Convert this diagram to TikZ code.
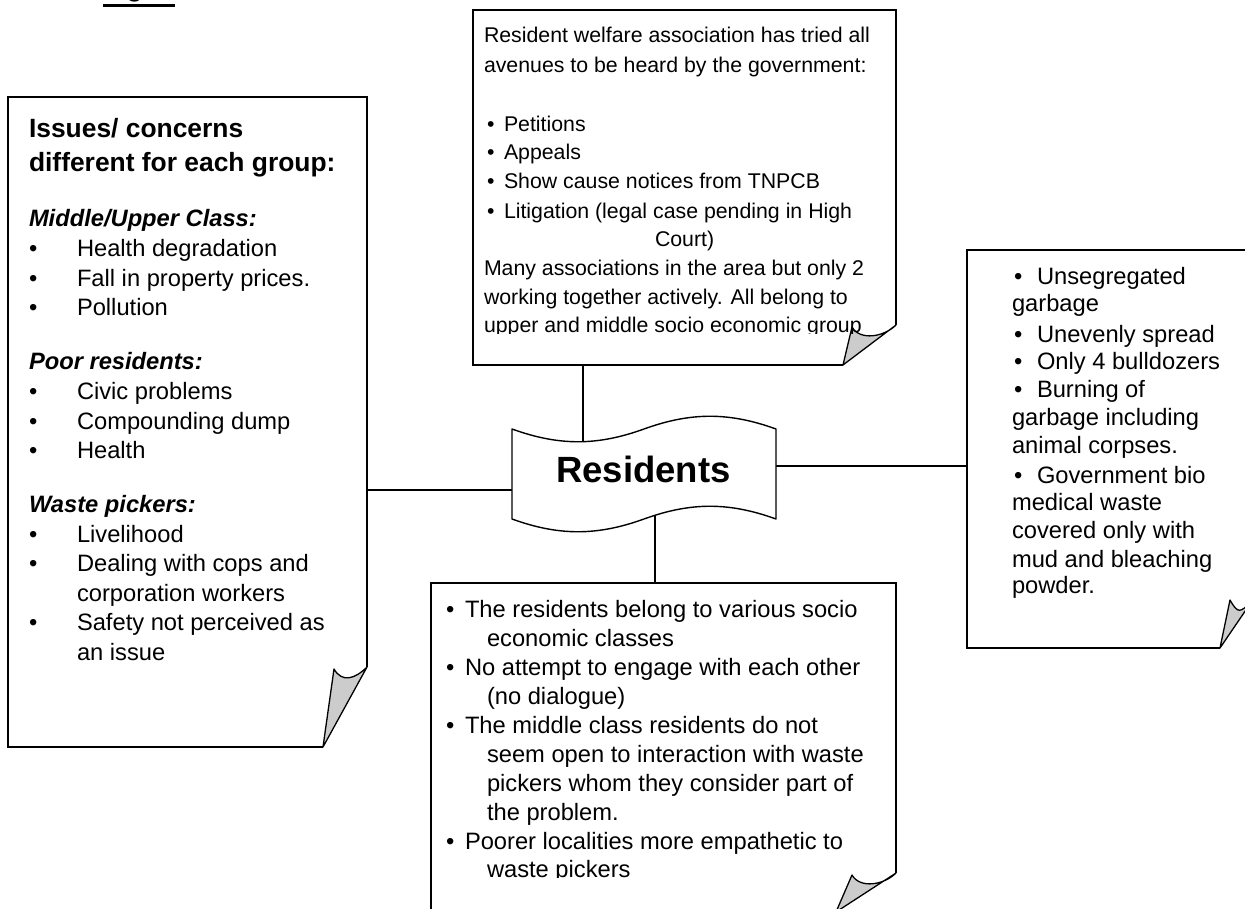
\documentclass[tikz,border=0pt]{standalone}
\usepackage{fontspec}
\setmainfont{Liberation Sans}
\newcounter{txc}
\tikzset{
  boxline/.style={draw=black, line width=1.3pt, line join=miter},
  foldfill/.style={fill=black!20, draw=black, line width=1.3pt, line join=round},
  link/.style={draw=black, line width=1.3pt},
  txt/.style={anchor=base west, inner sep=0pt, outer sep=0pt, font=\fontsize{23.7}{28}\selectfont},
  toptxt/.style={txt, font=\fontsize{21.3}{26}\selectfont},
  headtxt/.style={txt, font=\fontsize{26.4}{32}\selectfont\bfseries},
  subtxt/.style={txt, font=\fontsize{23.7}{28}\selectfont\bfseries\itshape},
  restxt/.style={anchor=base, inner sep=0pt, font=\fontsize{36.5}{40}\selectfont\bfseries}
}
% #1 style, #2 x, #3 y, #4 text
\newcommand\Tx[4]{\stepcounter{txc}\node[#1] (tx\arabic{txc}) at (#2,#3) {#4};}
% #1 style, #2 bullet x, #3 text x, #4 y, #5 text
\newcommand\Bu[5]{\Tx{#1}{#2}{#4}{\textbullet}\Tx{#1}{#3}{#4}{#5}}
% fold box: #1 L, #2 T, #3 R, #4 B, #5 corner y, #6 curl x, #7 curl y, #8 tip x
\newcommand\FoldBox[8]{%
  \draw[boxline] (#8,#4) -- (#1,#4) -- (#1,#2) -- (#3,#2) -- (#3,#5);
  \draw[foldfill] (#8,#4) -- (#3,#5) .. controls ({#3-12},{#5+12}) and ({#6+8},{#7+14}) .. (#6,#7) -- cycle;
}
\begin{document}
\begin{tikzpicture}[x=1pt,y=-1pt]
\useasboundingbox (0,0) rectangle (1245,909);
\clip (0,0) rectangle (1245,909);

% Fig label (cut at top, as in the reference)
\node[anchor=base west, inner sep=0pt, font=\fontsize{26.4}{32}\selectfont\bfseries] (figlabel) at (103,-3) {Fig 2.};
\fill (103,4) rectangle (175,7);

% anchor points
\coordinate (lb-e) at (367,490);
\coordinate (res-w) at (512,490);
\coordinate (tb-s) at (583,365);
\coordinate (res-n) at (583,442);
\coordinate (res-e) at (776,466);
\coordinate (rb-w) at (967,466);
\coordinate (res-s) at (655,513);
\coordinate (bb-n) at (655,583);

% connectors
\draw[link] (lb-e) -- (res-w);
\draw[link] (tb-s) -- (res-n);
\draw[link] (res-e) -- (rb-w);
\draw[link] (res-s) -- (bb-n);

% boxes
\FoldBox{8}{97}{367}{747}{667}{334}{669}{323}
\FoldBox{473}{10}{896}{365}{325}{852}{327}{843}
\FoldBox{431}{583}{896}{912}{873}{852}{875}{836}
\FoldBox{967}{250}{1252}{648}{601}{1230}{600}{1220}

% Residents tape shape
\draw[line width=1.4pt, fill=white, line join=round] (512,429)
  .. controls (559,446) and (597,446) .. (644,429)
  .. controls (691,412) and (729,412) .. (776,429)
  -- (776,519)
  .. controls (729,502) and (691,502) .. (644,519)
  .. controls (597,536) and (559,536) .. (512,519) -- cycle;
\node[restxt] (residents) at (643.5,482) {Residents};

% Left box text
\Tx{headtxt}{29}{138}{Issues/ concerns}
\Tx{headtxt}{29}{172}{different for each group:}
\Tx{subtxt}{29}{227}{Middle/Upper Class:}
\Bu{txt}{29}{77}{257}{Health degradation}
\Bu{txt}{29}{77}{287}{Fall in property prices.}
\Bu{txt}{29}{77}{316}{Pollution}
\Tx{subtxt}{29}{370}{Poor residents:}
\Bu{txt}{29}{77}{399.5}{Civic problems}
\Bu{txt}{29}{77}{429}{Compounding dump}
\Bu{txt}{29}{77}{458.5}{Health}
\Tx{subtxt}{29}{512.5}{Waste pickers:}
\Bu{txt}{29}{77}{542}{Livelihood}
\Bu{txt}{29}{77}{571.5}{Dealing with cops and}
\Tx{txt}{77}{601}{corporation workers}
\Bu{txt}{29}{77}{630.5}{Safety not perceived as}
\Tx{txt}{77}{660}{an issue}

% Top box text
\begin{scope}
\clip (473,10) rectangle (896,334);
\Tx{toptxt}{484}{43}{Resident welfare association has tried all}
\Tx{toptxt}{484}{73}{avenues to be heard by the government:}
\Bu{toptxt}{487}{504}{132}{Petitions}
\Bu{toptxt}{487}{504}{160}{Appeals}
\Bu{toptxt}{487}{504}{189}{Show cause notices from TNPCB}
\Bu{toptxt}{487}{504}{219}{Litigation (legal case pending in High}
\Tx{toptxt}{655}{247}{Court)}
\Tx{toptxt}{484}{276}{Many associations in the area but only 2}
\Tx{toptxt}{484}{305}{working together actively. All belong to}
\Tx{toptxt}{484}{333}{upper and middle socio economic group}
\end{scope}

% Bottom box text
\begin{scope}
\clip (431,583) rectangle (896,877);
\Bu{txt}{446}{465}{617}{The residents belong to various socio}
\Tx{txt}{487}{646}{economic classes}
\Bu{txt}{446}{465}{675}{No attempt to engage with each other}
\Tx{txt}{487}{704}{(no dialogue)}
\Bu{txt}{446}{465}{733}{The middle class residents do not}
\Tx{txt}{487}{762}{seem open to interaction with waste}
\Tx{txt}{487}{791}{pickers whom they consider part of}
\Tx{txt}{487}{820}{the problem.}
\Bu{txt}{446}{465}{849}{Poorer localities more empathetic to}
\Tx{txt}{487}{877}{waste pickers}
\end{scope}

% Right box text
\Bu{txt}{1014}{1037}{285}{Unsegregated}
\Tx{txt}{1012}{312}{garbage}
\Bu{txt}{1014}{1037}{342}{Unevenly spread}
\Bu{txt}{1014}{1037}{369}{Only 4 bulldozers}
\Bu{txt}{1014}{1037}{397}{Burning of}
\Tx{txt}{1012}{425}{garbage including}
\Tx{txt}{1012}{453}{animal corpses.}
\Bu{txt}{1014}{1037}{483}{Government bio}
\Tx{txt}{1012}{510}{medical waste}
\Tx{txt}{1012}{538}{covered only with}
\Tx{txt}{1012}{567}{mud and bleaching}
\Tx{txt}{1012}{593}{powder.}
\end{tikzpicture}
\end{document}
